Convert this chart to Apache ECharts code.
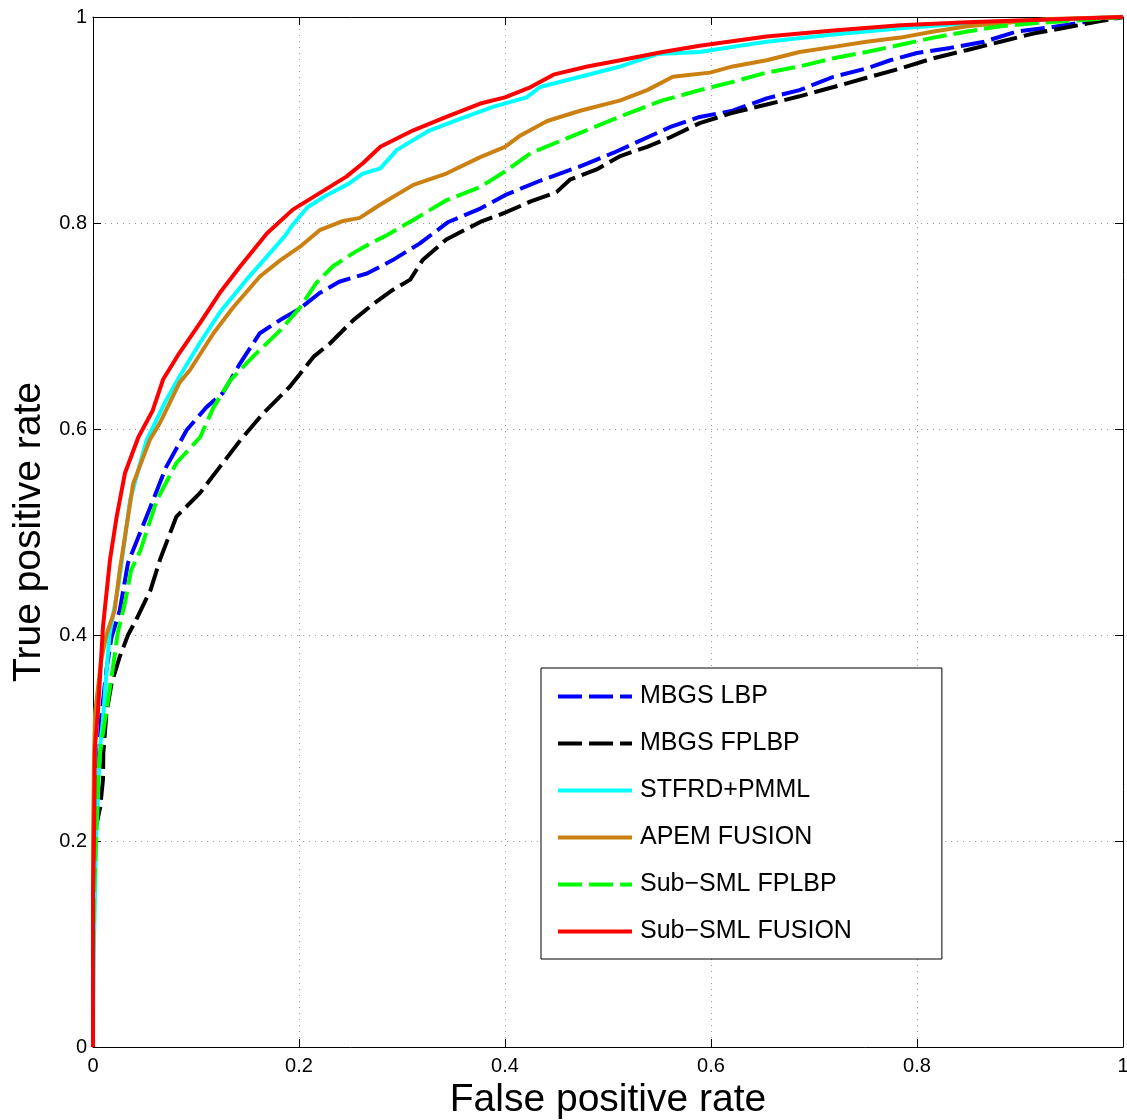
<!DOCTYPE html>
<html>
<head>
<meta charset="utf-8">
<script src="https://cdn.jsdelivr.net/npm/echarts@6/dist/echarts.min.js"></script>
<style>
html,body{margin:0;padding:0;background:#fff;}
#chart{width:1127px;height:1120px;}
</style>
</head>
<body>
<div id="chart"></div>
<script>
// ---- data: [false positive rate, true positive rate] ----
const seriesNames = ['MBGS LBP', 'MBGS FPLBP', 'STFRD+PMML', 'APEM FUSION', 'Sub\u2212SML FPLBP', 'Sub\u2212SML FUSION'];
const axisTicks = [0, 0.2, 0.4, 0.6, 0.8, 1];

const mbgsLbp = [[0,0],[0,0.15],[0.002,0.22],[0.003,0.24],[0.005,0.27],[0.008,0.32],[0.013,0.366],[0.018,0.398],[0.026,0.424],[0.034,0.47],[0.052,0.515],[0.071,0.563],[0.091,0.599],[0.110,0.621],[0.126,0.635],[0.143,0.664],[0.162,0.693],[0.182,0.706],[0.201,0.717],[0.220,0.732],[0.239,0.743],[0.266,0.751],[0.291,0.764],[0.317,0.780],[0.345,0.801],[0.376,0.814],[0.4,0.827],[0.434,0.841],[0.473,0.855],[0.505,0.868],[0.538,0.883],[0.560,0.893],[0.589,0.903],[0.621,0.909],[0.654,0.921],[0.686,0.929],[0.719,0.942],[0.751,0.950],[0.774,0.958],[0.8,0.965],[0.832,0.970],[0.865,0.976],[0.897,0.986],[0.930,0.990],[0.962,0.995],[1,1]];

const mbgsFplbp = [[0,0],[0,0.2],[0.007,0.233],[0.0097,0.26],[0.010,0.285],[0.013,0.324],[0.018,0.353],[0.026,0.379],[0.034,0.40],[0.042,0.415],[0.056,0.444],[0.065,0.473],[0.081,0.515],[0.104,0.538],[0.123,0.563],[0.143,0.589],[0.165,0.615],[0.191,0.641],[0.214,0.670],[0.230,0.683],[0.253,0.706],[0.273,0.722],[0.291,0.735],[0.308,0.745],[0.320,0.764],[0.343,0.784],[0.376,0.801],[0.4,0.810],[0.425,0.821],[0.450,0.830],[0.463,0.842],[0.489,0.852],[0.512,0.865],[0.538,0.874],[0.560,0.883],[0.589,0.897],[0.621,0.907],[0.654,0.915],[0.686,0.923],[0.719,0.932],[0.751,0.941],[0.784,0.950],[0.816,0.960],[0.849,0.968],[0.881,0.976],[0.913,0.984],[0.946,0.990],[0.978,0.996],[1,1]];

const stfrdPmml = [[0,0],[0.001,0.104],[0.003,0.2],[0.005,0.25],[0.0068,0.291],[0.0097,0.317],[0.012,0.35],[0.016,0.40],[0.025,0.45],[0.036,0.531],[0.052,0.589],[0.071,0.628],[0.084,0.651],[0.104,0.684],[0.123,0.713],[0.149,0.745],[0.172,0.771],[0.186,0.787],[0.193,0.797],[0.208,0.815],[0.225,0.826],[0.248,0.838],[0.262,0.848],[0.279,0.853],[0.295,0.871],[0.327,0.890],[0.359,0.902],[0.389,0.913],[0.421,0.922],[0.434,0.932],[0.473,0.942],[0.512,0.952],[0.548,0.964],[0.589,0.966],[0.628,0.972],[0.654,0.976],[0.719,0.983],[0.784,0.989],[0.849,0.994],[0.92,0.997],[1,1]];

const apemFusion = [[0,0],[0,0.2],[0.001,0.28],[0.002,0.324],[0.008,0.376],[0.013,0.40],[0.021,0.424],[0.026,0.463],[0.039,0.547],[0.055,0.589],[0.065,0.606],[0.084,0.645],[0.094,0.657],[0.117,0.693],[0.136,0.718],[0.162,0.748],[0.182,0.764],[0.201,0.777],[0.220,0.793],[0.243,0.802],[0.259,0.805],[0.279,0.818],[0.311,0.837],[0.343,0.848],[0.376,0.864],[0.4,0.874],[0.415,0.885],[0.441,0.899],[0.473,0.909],[0.512,0.919],[0.538,0.929],[0.563,0.942],[0.599,0.946],[0.621,0.952],[0.654,0.958],[0.686,0.966],[0.719,0.971],[0.751,0.976],[0.784,0.980],[0.816,0.986],[0.849,0.991],[0.881,0.994],[0.928,0.998],[1,1]];

const subSmlFplbp = [[0,0],[0,0.09],[0.001,0.15],[0.003,0.2],[0.005,0.26],[0.0068,0.285],[0.0097,0.305],[0.0146,0.337],[0.019,0.366],[0.024,0.402],[0.031,0.431],[0.037,0.463],[0.046,0.482],[0.062,0.531],[0.081,0.567],[0.104,0.592],[0.117,0.621],[0.133,0.647],[0.155,0.670],[0.182,0.696],[0.201,0.718],[0.217,0.742],[0.233,0.758],[0.253,0.771],[0.269,0.780],[0.285,0.788],[0.311,0.803],[0.343,0.822],[0.376,0.835],[0.4,0.850],[0.425,0.868],[0.457,0.881],[0.489,0.894],[0.521,0.907],[0.553,0.919],[0.589,0.929],[0.621,0.937],[0.654,0.946],[0.686,0.952],[0.719,0.960],[0.751,0.966],[0.784,0.973],[0.816,0.980],[0.849,0.986],[0.881,0.991],[0.913,0.994],[0.946,0.996],[1,1]];

const subSmlFusion = [[0,0],[0,0.15],[0.001,0.2],[0.0019,0.291],[0.0049,0.327],[0.0097,0.408],[0.0165,0.473],[0.023,0.515],[0.031,0.557],[0.044,0.592],[0.058,0.618],[0.068,0.648],[0.084,0.674],[0.104,0.703],[0.123,0.732],[0.143,0.758],[0.169,0.790],[0.194,0.813],[0.220,0.829],[0.246,0.845],[0.262,0.858],[0.279,0.874],[0.311,0.890],[0.343,0.903],[0.376,0.916],[0.4,0.922],[0.425,0.932],[0.447,0.944],[0.480,0.952],[0.512,0.958],[0.553,0.966],[0.589,0.972],[0.654,0.981],[0.719,0.987],[0.784,0.992],[0.849,0.995],[0.913,0.997],[1,1]];

const seriesData = [mbgsLbp, mbgsFplbp, stfrdPmml, apemFusion, subSmlFplbp, subSmlFusion];
const seriesColors = ['#0000ff', '#000000', '#00ffff', '#cc8012', '#00ff00', '#ff0000'];
const seriesDashed = [true, true, false, false, true, false];

const FONT = '"Liberation Sans", Arial, Helvetica, sans-serif';
const chart = echarts.init(document.getElementById('chart'), null, {renderer: 'canvas'});

const gridLine = {show: true, lineStyle: {color: '#9a9a9a', type: [1, 5], width: 1}};
function baseAxis(extra) {
  return Object.assign({
    type: 'value', min: 0, max: 1, interval: 0.2,
    axisLine: {show: true, onZero: false, lineStyle: {color: '#000', width: 1}},
    axisTick: {show: true, inside: true, length: 8, lineStyle: {color: '#000', width: 1}},
    splitLine: {show: false},
    axisLabel: {show: false}
  }, extra);
}

const option = {
  animation: false,
  backgroundColor: '#fff',
  grid: {left: 93, right: 4, top: 17, bottom: 73, containLabel: false, outerBoundsMode: 'none'},
  xAxis: [
    baseAxis({
      position: 'bottom',
      splitLine: gridLine,
      axisLabel: {show: true, color: '#000', fontSize: 20, fontFamily: FONT, margin: 9,
        formatter: v => String(+v.toFixed(1))},
      name: 'False positive rate', nameLocation: 'middle', nameGap: 29,
      nameTextStyle: {color: '#000', fontSize: 39, fontFamily: FONT}
    }),
    baseAxis({position: 'top'})
  ],
  yAxis: [
    baseAxis({
      position: 'left',
      splitLine: gridLine,
      axisLabel: {show: true, color: '#000', fontSize: 20, fontFamily: FONT, margin: 6,
        formatter: v => String(+v.toFixed(1))},
      name: 'True positive rate', nameLocation: 'middle', nameGap: 43,
      nameTextStyle: {color: '#000', fontSize: 39, fontFamily: FONT}
    }),
    baseAxis({position: 'right'})
  ],
  legend: {
    orient: 'vertical',
    left: 541, top: 668,
    padding: [16, 90, 15, 15],
    backgroundColor: '#fff',
    borderColor: '#000', borderWidth: 1,
    itemWidth: 74, itemHeight: 25, itemGap: 22,
    itemStyle: {opacity: 0},
    lineStyle: {width: 4},
    textStyle: {color: '#000', fontSize: 25, fontFamily: FONT, padding: [0, 0, 0, 3]},
    data: seriesNames
  },
  series: seriesNames.map((name, i) => ({
    name: name,
    type: 'line',
    data: seriesData[i],
    showSymbol: false,
    symbol: 'none',
    smooth: false,
    z: 2 + i,
    lineStyle: {color: seriesColors[i], width: 4, type: seriesDashed[i] ? [24, 7] : 'solid'},
    itemStyle: {color: seriesColors[i]}
  }))
};
chart.setOption(option);
</script>
</body>
</html>
